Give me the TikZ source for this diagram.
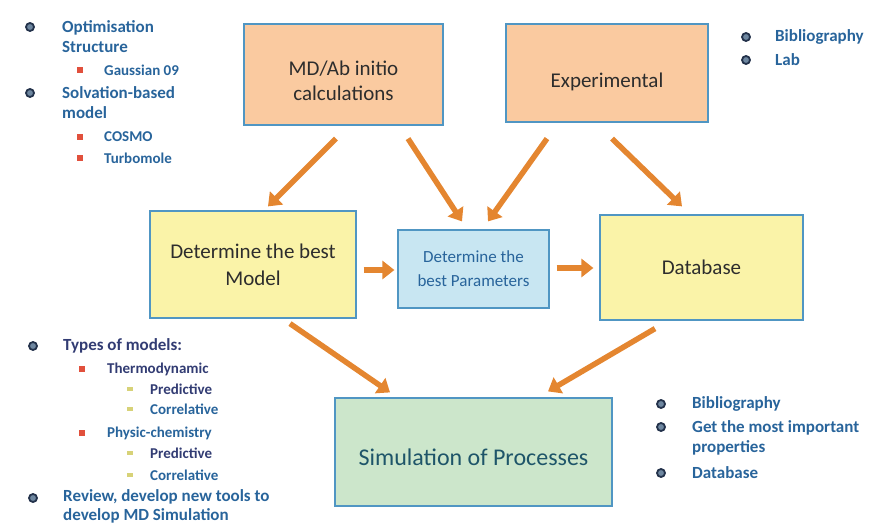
\documentclass[tikz,border=0pt]{standalone}
\usepackage{fontspec}
\setmainfont{Carlito}
\usetikzlibrary{arrows.meta}

\definecolor{peach}{RGB}{250,202,160}
\definecolor{paleyellow}{RGB}{250,243,168}
\definecolor{paleblue}{RGB}{200,230,242}
\definecolor{palegreen}{RGB}{204,230,203}
\definecolor{boxline}{RGB}{80,150,195}
\definecolor{arroworange}{RGB}{228,134,48}
\definecolor{boxtext}{RGB}{45,45,45}
\definecolor{listblue}{RGB}{40,100,155}
\definecolor{listnavy}{RGB}{50,60,115}
\definecolor{simtext}{RGB}{30,85,105}
\definecolor{dotdark}{RGB}{35,50,75}
\definecolor{dotfill}{RGB}{110,135,160}
\definecolor{dotred}{RGB}{225,80,60}
\definecolor{dotyellow}{RGB}{215,210,120}

\begin{document}
\begin{tikzpicture}[x=1pt,y=-1pt]
    \tikzstyle{arrow} = [line width=5.5pt, draw=arroworange, -{Triangle[length=12pt,width=18pt]}]
    \tikzstyle{box} = [draw=boxline, line width=1.2pt, align=center, inner sep=0pt, text=boxtext]
    \tikzstyle{item} = [anchor=west, align=left, inner sep=0pt, text=listblue, font=\fontsize{17}{20}\selectfont\bfseries]
    \tikzstyle{subitem} = [item, font=\fontsize{15}{18}\selectfont\bfseries]
    \tikzstyle{dotA} = [circle, draw=dotdark, fill=dotfill, line width=1.8pt, minimum size=8pt, inner sep=0pt]
    \tikzstyle{dotB} = [rectangle, fill=dotred, minimum size=5.5pt, inner sep=0pt]
    \tikzstyle{dotC} = [rectangle, fill=dotyellow, minimum width=6pt, minimum height=4pt, inner sep=0pt]
    \useasboundingbox (0,0) rectangle (880,526);

    % Top boxes
    \node [box, fill=peach, minimum width=199pt, minimum height=101pt, font=\fontsize{21}{25}\selectfont, text height=52pt] (MD) at (343.5,74.5) {MD/Ab initio\\calculations};
    \node [box, fill=peach, minimum width=202pt, minimum height=98pt, font=\fontsize{21}{25}\selectfont, text height=33pt] (Exp) at (607,73) {Experimental};

    % Middle row
    \node [box, fill=paleyellow, minimum width=206pt, minimum height=107pt, font=\fontsize{21}{27}\selectfont] (Model) at (253,264.5) {Determine the best\\Model};
    \node [box, fill=paleblue, minimum width=151pt, minimum height=78pt, font=\fontsize{17}{24}\selectfont, text=listblue] (Params) at (473.5,269) {Determine the\\best Parameters};
    \node [box, fill=paleyellow, minimum width=203pt, minimum height=105pt, font=\fontsize{21}{25}\selectfont] (DB) at (701.5,267.5) {Database};

    % Bottom box
    \node [box, fill=palegreen, minimum width=277pt, minimum height=108pt, font=\fontsize{24}{29}\selectfont, text=simtext, text height=27pt] (Sim) at (473.5,452) {Simulation of Processes};

    % Arrows from the sources
    \draw [arrow] ([xshift=-7.5pt,yshift=-13pt]MD.south) -- ([xshift=15pt,yshift=4pt]Model.north);
    \draw [arrow] ([xshift=64.5pt,yshift=-13pt]MD.south) -- ([xshift=-11.5pt,yshift=8pt]Params.north);
    \draw [arrow] ([xshift=-60pt,yshift=-16pt]Exp.south) -- ([xshift=14.5pt,yshift=8pt]Params.north);
    \draw [arrow] ([xshift=5pt,yshift=-16pt]Exp.south) -- ([xshift=-19.5pt,yshift=8pt]DB.north);

    % Arrows along the middle row
    \draw [arrow] ([xshift=7pt,yshift=-5.5pt]Model.east) -- ([xshift=-3pt,yshift=-1pt]Params.west);
    \draw [arrow] ([xshift=7pt,yshift=1pt]Params.east) -- ([xshift=-6pt,yshift=-0.5pt]DB.west);

    % Arrows to the simulation
    \draw [arrow] ([xshift=37pt,yshift=-5pt]Model.south) -- ([xshift=-83.5pt,yshift=5pt]Sim.north);
    \draw [arrow] ([xshift=-46.5pt,yshift=-8pt]DB.south) -- ([xshift=74.5pt,yshift=6pt]Sim.north);

    % Top left list
    \node [dotA] (d1) at (30,27) {};
    \node [item] (opt) at (62,37) {Optimisation\\Structure};
    \node [dotB] (d2) at (80,70) {};
    \node [subitem] (gauss) at (104,70) {Gaussian 09};
    \node [dotA] (d3) at (30,93) {};
    \node [item] (solv) at (62,103) {Solvation-based\\model};
    \node [dotB] (d4) at (80,137) {};
    \node [subitem] (cosmo) at (104,137) {COSMO};
    \node [dotB] (d5) at (80,158) {};
    \node [subitem] (turbo) at (104,158) {Turbomole};

    % Top right list
    \node [dotA] (d6) at (746,37) {};
    \node [item] (bib1) at (775,37) {Bibliography};
    \node [dotA] (d7) at (746,60) {};
    \node [item] (lab) at (775,60) {Lab};

    % Bottom left list
    \node [dotA] (d8) at (33,346) {};
    \node [item, text=listnavy] (types) at (63,346) {Types of models:};
    \node [dotB] (d9) at (82,369) {};
    \node [subitem, text=listnavy] (thermo) at (107,369) {Thermodynamic};
    \node [dotC] (d10) at (130,389) {};
    \node [subitem, text=listnavy] (pred1) at (150,389) {Predictive};
    \node [dotC] (d11) at (130,409) {};
    \node [subitem] (corr1) at (150,409) {Correlative};
    \node [dotB] (d12) at (82,433) {};
    \node [subitem] (phys) at (107,433) {Physic-chemistry};
    \node [dotC] (d13) at (130,453) {};
    \node [subitem, text=listnavy] (pred2) at (150,453) {Predictive};
    \node [dotC] (d14) at (130,475) {};
    \node [subitem] (corr2) at (150,475) {Correlative};
    \node [dotA] (d15) at (33,498) {};
    \node [item, font=\fontsize{17}{19}\selectfont\bfseries] (review) at (63,506.5) {Review, develop new tools to\\develop MD Simulation};

    % Bottom right list
    \node [dotA] (d16) at (661,404) {};
    \node [item] (bib2) at (692,404) {Bibliography};
    \node [dotA] (d17) at (661,427) {};
    \node [item] (props) at (692,437.5) {Get the most important\\properties};
    \node [dotA] (d18) at (661,473) {};
    \node [item] (dbase) at (692,473) {Database};
\end{tikzpicture}
\end{document}
